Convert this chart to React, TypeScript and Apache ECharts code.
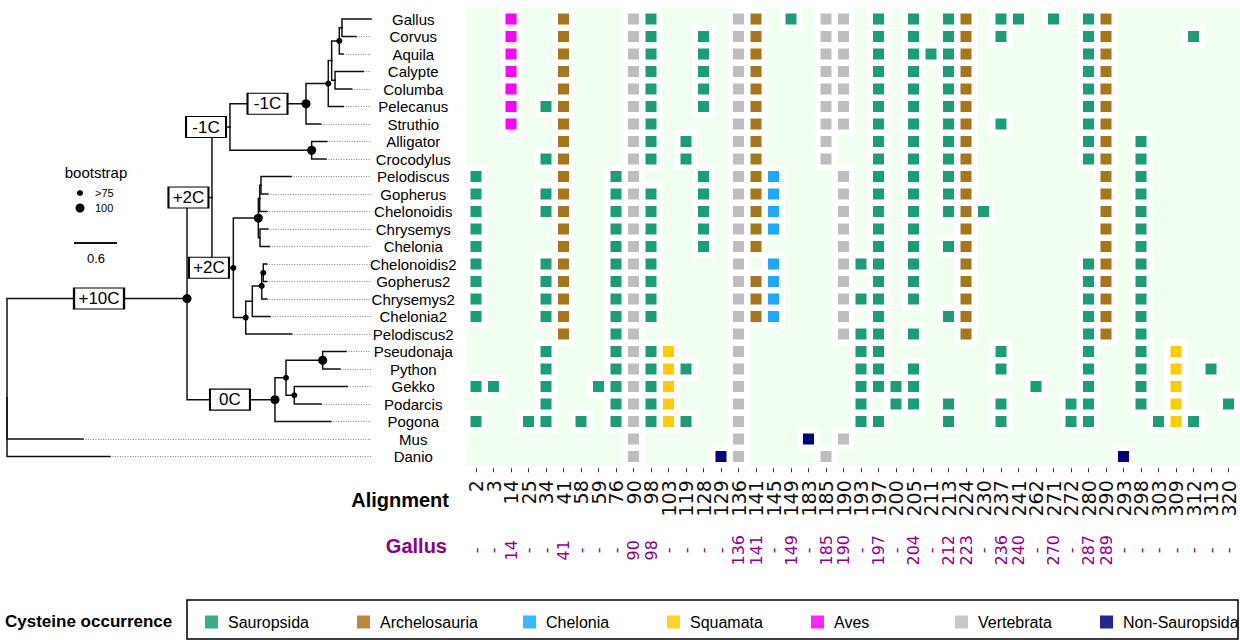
import React, { useEffect, useRef } from "react";
import * as echarts from "echarts";

// ---------- DATA ----------
const taxa = [
  "Gallus", "Corvus", "Aquila", "Calypte", "Columba", "Pelecanus", "Struthio",
  "Alligator", "Crocodylus", "Pelodiscus", "Gopherus", "Chelonoidis", "Chrysemys",
  "Chelonia", "Chelonoidis2", "Gopherus2", "Chrysemys2", "Chelonia2", "Pelodiscus2",
  "Pseudonaja", "Python", "Gekko", "Podarcis", "Pogona", "Mus", "Danio",
];

const alignmentPositions = [
  2, 3, 14, 25, 34, 41, 58, 59, 76, 90, 98, 103, 119, 128, 129, 136, 141, 145, 149, 183,
  185, 190, 193, 197, 200, 205, 211, 213, 224, 230, 237, 241, 262, 271, 272, 280, 290, 293,
  298, 303, 309, 312, 313, 320,
];

const gallusPositions = [
  "-", "-", "14", "-", "-", "41", "-", "-", "-", "90", "98", "-", "-", "-", "-", "136", "141",
  "-", "149", "-", "185", "190", "-", "197", "-", "204", "-", "212", "223", "-", "236", "240",
  "-", "270", "-", "287", "289", "-", "-", "-", "-", "-", "-", "-",
];

type Cells = [string, number[]][];

const sauropsidaCells: Cells = [
  ["Gallus", [98, 149, 197, 205, 213, 237, 241, 271, 280]],
  ["Corvus", [98, 128, 197, 205, 213, 237, 280, 312]],
  ["Aquila", [98, 128, 197, 205, 211, 213, 280]],
  ["Calypte", [98, 128, 197, 205, 213, 280]],
  ["Columba", [98, 128, 197, 205, 213, 280]],
  ["Pelecanus", [34, 98, 128, 197, 205, 213, 280]],
  ["Struthio", [98, 197, 205, 213, 237, 280]],
  ["Alligator", [98, 119, 197, 205, 213, 280, 298]],
  ["Crocodylus", [34, 98, 119, 197, 205, 213, 280, 298]],
  ["Pelodiscus", [2, 76, 128, 197, 205, 213, 298]],
  ["Gopherus", [2, 34, 76, 98, 128, 197, 205, 213, 298]],
  ["Chelonoidis", [2, 34, 76, 98, 128, 197, 205, 213, 230, 298]],
  ["Chrysemys", [2, 76, 98, 128, 197, 205, 298]],
  ["Chelonia", [2, 76, 98, 128, 197, 205, 213, 298]],
  ["Chelonoidis2", [2, 34, 76, 98, 193, 197, 205, 280, 298]],
  ["Gopherus2", [2, 34, 76, 98, 197, 205, 280, 298]],
  ["Chrysemys2", [2, 34, 76, 98, 193, 197, 205, 280, 298]],
  ["Chelonia2", [2, 34, 76, 98, 197, 213, 280, 298]],
  ["Pelodiscus2", [76, 193, 197, 205, 280, 298]],
  ["Pseudonaja", [34, 76, 98, 193, 197, 237, 280, 298]],
  ["Python", [34, 76, 98, 119, 193, 197, 205, 237, 280, 298, 313]],
  ["Gekko", [2, 3, 34, 59, 76, 98, 193, 197, 200, 205, 262, 280, 298]],
  ["Podarcis", [34, 76, 98, 193, 200, 205, 213, 237, 272, 280, 298, 320]],
  ["Pogona", [2, 25, 34, 58, 76, 98, 119, 193, 197, 213, 237, 272, 280, 303, 312]],
];

const archelosauriaCells: Cells = [
  ["Gallus", [41, 141, 224, 290]],
  ["Corvus", [41, 141, 224, 290]],
  ["Aquila", [41, 141, 224, 290]],
  ["Calypte", [41, 141, 224, 290]],
  ["Columba", [41, 141, 224, 290]],
  ["Pelecanus", [41, 141, 224, 290]],
  ["Struthio", [41, 141, 224, 290]],
  ["Alligator", [41, 141, 224, 290]],
  ["Crocodylus", [41, 141, 224, 290]],
  ["Pelodiscus", [41, 141, 224, 290]],
  ["Gopherus", [41, 141, 224, 290]],
  ["Chelonoidis", [41, 141, 224, 290]],
  ["Chrysemys", [41, 141, 224, 290]],
  ["Chelonia", [41, 141, 224, 290]],
  ["Chelonoidis2", [41, 224, 290]],
  ["Gopherus2", [41, 141, 224, 290]],
  ["Chrysemys2", [41, 141, 224, 290]],
  ["Chelonia2", [41, 141, 224, 290]],
  ["Pelodiscus2", [41, 224, 290]],
];

const cheloniaCells: Cells = [
  ["Pelodiscus", [145]], ["Gopherus", [145]], ["Chelonoidis", [145]], ["Chrysemys", [145]],
  ["Chelonoidis2", [145]], ["Gopherus2", [145]], ["Chrysemys2", [145]], ["Chelonia2", [145]],
];

const squamataCells: Cells = [
  ["Pseudonaja", [103, 309]], ["Python", [103, 309]], ["Gekko", [103, 309]],
  ["Podarcis", [103, 309]], ["Pogona", [103, 309]],
];

const avesCells: Cells = [
  ["Gallus", [14]], ["Corvus", [14]], ["Aquila", [14]], ["Calypte", [14]],
  ["Columba", [14]], ["Pelecanus", [14]], ["Struthio", [14]],
];

const vertebrataCells: Cells = [
  ["Gallus", [90, 136, 185, 190]], ["Corvus", [90, 136, 185, 190]],
  ["Aquila", [90, 136, 185, 190]], ["Calypte", [90, 136, 185, 190]],
  ["Columba", [90, 136, 185, 190]], ["Pelecanus", [90, 136, 185, 190]],
  ["Struthio", [90, 136, 185, 190]], ["Alligator", [90, 136, 185]],
  ["Crocodylus", [90, 136, 185]], ["Pelodiscus", [90, 136, 190]],
  ["Gopherus", [90, 136, 190]], ["Chelonoidis", [90, 136, 190]],
  ["Chrysemys", [90, 136, 190]], ["Chelonia", [90, 136, 190]],
  ["Chelonoidis2", [90, 136, 190]], ["Gopherus2", [90, 136, 190]],
  ["Chrysemys2", [90, 136, 190]], ["Chelonia2", [90, 136, 190]],
  ["Pelodiscus2", [90, 136, 190]], ["Pseudonaja", [90, 136]], ["Python", [90, 136]],
  ["Gekko", [90, 136]], ["Podarcis", [90, 136]], ["Pogona", [90, 136]],
  ["Mus", [90, 136, 190]], ["Danio", [90, 136, 185]],
];

const nonSauropsidaCells: Cells = [
  ["Mus", [183]], ["Danio", [129, 293]],
];

const categoryNames = ["Sauropsida", "Archelosauria", "Chelonia", "Squamata", "Aves", "Vertebrata", "Non-Sauropsida"];
const categoryColors = ["#1B9E77", "#A6761D", "#19A9FF", "#FFCC00", "#FF00FF", "#BEBEBE", "#000080"];
const categoryCells = [sauropsidaCells, archelosauriaCells, cheloniaCells, squamataCells, avesCells, vertebrataCells, nonSauropsidaCells];

// Tree: [id, parent, depth (substitutions/site), bootstrap]
const internalNodes: [string, string | null, number, number][] = [
  ["root", null, 0, 0],
  ["N1", "root", 2.512, 100],
  ["N2", "N1", 2.86, 0],
  ["N3", "N2", 3.111, 0],
  ["H", "N3", 4.172, 100],
  ["D", "H", 4.483, 80],
  ["E", "D", 4.53, 0],
  ["B", "E", 4.637, 80],
  ["A", "B", 4.674, 0],
  ["C", "E", 4.577, 0],
  ["Croc", "N3", 4.251, 100],
  ["N4", "N2", 3.158, 80],
  ["T", "N4", 3.507, 100],
  ["P2", "T", 3.526, 0],
  ["P1", "P2", 3.544, 0],
  ["P3", "T", 3.53, 0],
  ["Q4", "N4", 3.331, 80],
  ["Q3", "Q4", 3.423, 0],
  ["Q2", "Q3", 3.554, 80],
  ["Q1", "Q2", 3.576, 80],
  ["S", "N1", 3.739, 100],
  ["S1", "S", 3.893, 80],
  ["Sn", "S1", 4.405, 100],
  ["GP", "S1", 4.009, 80],
];

const tipNodes: [string, string, number][] = [
  ["Gallus", "A", 5.08], ["Corvus", "A", 4.87], ["Aquila", "B", 4.688],
  ["Calypte", "C", 4.972], ["Columba", "C", 4.81], ["Pelecanus", "D", 4.693],
  ["Struthio", "H", 4.377], ["Alligator", "Croc", 4.461], ["Crocodylus", "Croc", 4.451],
  ["Pelodiscus", "P1", 3.963], ["Gopherus", "P1", 3.638], ["Chelonoidis", "P2", 3.624],
  ["Chrysemys", "P3", 3.638], ["Chelonia", "P3", 3.66], ["Chelonoidis2", "Q1", 3.624],
  ["Gopherus2", "Q1", 3.624], ["Chrysemys2", "Q2", 3.624], ["Chelonia2", "Q3", 3.67],
  ["Pelodiscus2", "Q4", 3.972], ["Pseudonaja", "Sn", 4.73], ["Python", "Sn", 4.646],
  ["Gekko", "GP", 4.748], ["Podarcis", "GP", 4.381], ["Pogona", "S", 4.517],
  ["Mus", "root", 1.06], ["Danio", "root", 1.437],
];

// cysteine gain/loss labels on branches: [node, text, position along axis]
const branchLabels: [string, string, number][] = [
  ["N1", "+10C", 1.284], ["N2", "+2C", 2.532], ["N3", "-1C", 2.777],
  ["H", "-1C", 3.635], ["N4", "+2C", 2.818], ["S", "0C", 3.111],
];

const alignEnd = 5.08;
const scaleBar = 0.6;

// ---------- DERIVED ----------
const colIndex = (p: number) => alignmentPositions.indexOf(p);
const rowIndex = (t: string) => taxa.indexOf(t);
const toPoints = (cells: Cells) =>
  cells.flatMap(([t, ps]) => ps.map((p) => [colIndex(p), rowIndex(t)]));

const parentOf = new Map<string, string | null>();
const depthOf = new Map<string, number>();
const kids = new Map<string, string[]>();
internalNodes.forEach(([id, p, d]) => {
  parentOf.set(id, p); depthOf.set(id, d);
  if (p) kids.set(p, [...(kids.get(p) || []), id]);
});
tipNodes.forEach(([id, p, d]) => {
  parentOf.set(id, p); depthOf.set(id, d);
  kids.set(p, [...(kids.get(p) || []), id]);
});
const yMemo = new Map<string, number>();
const yOf = (id: string): number => {
  if (yMemo.has(id)) return yMemo.get(id)!;
  const r = rowIndex(id);
  let y: number;
  if (r >= 0 && !kids.has(id)) y = r;
  else {
    const ks = kids.get(id)!;
    y = ks.reduce((s, k) => s + yOf(k), 0) / ks.length;
  }
  yMemo.set(id, y);
  return y;
};

const allIds = [...internalNodes.map((n) => n[0]), ...tipNodes.map((n) => n[0])];
const branchSegments = allIds
  .filter((id) => parentOf.get(id))
  .map((id) => {
    const p = parentOf.get(id)!;
    const pd = depthOf.get(p)!;
    return { coords: [[pd, yOf(p)], [pd, yOf(id)], [depthOf.get(id)!, yOf(id)]] };
  });
const dottedSegments = tipNodes
  .filter(([, , d]) => alignEnd - d > 0.01)
  .map(([id, , d]) => ({ coords: [[d, yOf(id)], [alignEnd, yOf(id)]] }));

const FONT = "Liberation Sans";
const legendLefts = [205, 357, 523, 667, 811, 955, 1100];

const option: any = {
  animation: false,
  backgroundColor: "#ffffff",
  grid: [
    { left: 466, top: 8, width: 774, height: 458, show: true, backgroundColor: "#F0FFF0", borderWidth: 0, outerBoundsMode: "none" },
    { left: 467.25, top: 10.25, width: 770, height: 455, outerBoundsMode: "none" },
    { left: 7, top: 8, width: 372.67, height: 459, outerBoundsMode: "none" },
  ],
  xAxis: [
    { gridIndex: 0, type: "value", show: false, min: 0, max: 1 },
    {
      gridIndex: 1, type: "category", data: alignmentPositions.map(String), position: "bottom", offset: 3,
      axisLine: { show: false },
      axisTick: { show: true, alignWithLabel: true, length: 4, lineStyle: { color: "#333", width: 1 } },
      axisLabel: { interval: 0, rotate: 90, margin: 12, fontSize: 19, fontFamily: "DejaVu Sans", color: "#111" },
      splitLine: { show: false },
    },
    {
      gridIndex: 1, type: "category", data: alignmentPositions.map(String), position: "bottom", offset: 0,
      axisLine: { show: false }, axisTick: { show: false }, splitLine: { show: false },
      axisLabel: {
        interval: 0, rotate: 90, align: "center", margin: 85, fontSize: 16, fontFamily: "DejaVu Sans",
        color: "#8B008B", formatter: (_v: string, i: number) => gallusPositions[i],
      },
    },
    { gridIndex: 2, type: "value", show: false, min: 0, max: 5.2 },
  ],
  yAxis: [
    { gridIndex: 0, type: "value", show: false, min: 0, max: 1 },
    {
      gridIndex: 1, type: "category", data: taxa, inverse: true, position: "left",
      axisLine: { show: false }, axisTick: { show: false }, splitLine: { show: false },
      axisLabel: { interval: 0, align: "center", margin: 54, fontSize: 15, fontFamily: FONT, color: "#000" },
    },
    { gridIndex: 2, type: "value", show: false, min: -0.629, max: 25.6, inverse: true },
  ],
  legend: categoryNames.map((n, i) => ({
    left: legendLefts[i], top: 614, orient: "horizontal", itemWidth: 13, itemHeight: 13, itemGap: 0,
    padding: 0, selectedMode: false, icon: "rect",
    textStyle: { fontSize: 16, fontFamily: FONT, color: "#000", padding: [0, 0, 0, 5] },
    data: [{ name: n, itemStyle: { opacity: 0.85 } }],
  })),
  graphic: {
    elements: [
      { type: "rect", shape: { x: 187, y: 600, width: 1051, height: 39 }, style: { fill: "none", stroke: "#000", lineWidth: 1.5 } },
      { type: "text", x: 96, y: 172, style: { text: "bootstrap", fontSize: 15, fontFamily: FONT, fill: "#000", textAlign: "center", textVerticalAlign: "middle" } },
      { type: "circle", shape: { cx: 80, cy: 193, r: 3 }, style: { fill: "#000" } },
      { type: "circle", shape: { cx: 80, cy: 208, r: 4.5 }, style: { fill: "#000" } },
      { type: "text", x: 95, y: 193, style: { text: ">75", fontSize: 11, fontFamily: FONT, fill: "#000", textAlign: "left", textVerticalAlign: "middle" } },
      { type: "text", x: 95, y: 208, style: { text: "100", fontSize: 11, fontFamily: FONT, fill: "#000", textAlign: "left", textVerticalAlign: "middle" } },
      { type: "text", x: 96, y: 258, style: { text: String(scaleBar), fontSize: 13, fontFamily: FONT, fill: "#000", textAlign: "center", textVerticalAlign: "middle" } },
      { type: "text", x: 449, y: 500, style: { text: "Alignment", fontSize: 20, fontWeight: "bold", fontFamily: FONT, fill: "#000", textAlign: "right", textVerticalAlign: "middle" } },
      { type: "text", x: 447, y: 546, style: { text: "Gallus", fontSize: 20, fontWeight: "bold", fontFamily: FONT, fill: "#8B008B", textAlign: "right", textVerticalAlign: "middle" } },
      { type: "text", x: 5, y: 621, style: { text: "Cysteine occurrence", fontSize: 17, fontWeight: "bold", fontFamily: FONT, fill: "#000", textAlign: "left", textVerticalAlign: "middle" } },
    ],
  },
  series: [
    {
      type: "scatter", name: "halo", xAxisIndex: 1, yAxisIndex: 1, symbol: "rect", symbolSize: 23,
      itemStyle: { color: "#ffffff", opacity: 1 }, silent: true, z: 2,
      data: categoryCells.flatMap((c) => toPoints(c)),
    },
    ...categoryNames.map((n, i) => ({
      type: "scatter", name: n, xAxisIndex: 1, yAxisIndex: 1, symbol: "rect", symbolSize: 11,
      itemStyle: { color: categoryColors[i], opacity: 1 }, z: 3, silent: true,
      data: toPoints(categoryCells[i]),
    })),
    {
      type: "lines", name: "dotted", coordinateSystem: "cartesian2d", xAxisIndex: 3, yAxisIndex: 2,
      polyline: false, silent: true, z: 2,
      lineStyle: { color: "#777", width: 0.9, type: [1, 1.5], opacity: 1 },
      data: dottedSegments,
    },
    {
      type: "lines", name: "branches", coordinateSystem: "cartesian2d", xAxisIndex: 3, yAxisIndex: 2,
      polyline: true, silent: true, z: 3,
      lineStyle: { color: "#111", width: 1.5, opacity: 1, cap: "square" },
      data: branchSegments,
    },
    {
      type: "lines", name: "scale", coordinateSystem: "cartesian2d", xAxisIndex: 3, yAxisIndex: 2,
      polyline: false, silent: true, z: 3,
      lineStyle: { color: "#111", width: 2, opacity: 1 },
      data: [{ coords: [[0.935, 12.8], [0.935 + scaleBar, 12.8]] }],
    },
    {
      type: "scatter", name: "bootstrap", xAxisIndex: 3, yAxisIndex: 2, symbol: "circle", silent: true, z: 5,
      itemStyle: { color: "#000", opacity: 1 },
      data: internalNodes
        .filter(([, , , b]) => b > 0)
        .map(([id, , d, b]) => ({ value: [d, yOf(id)], symbolSize: b >= 100 ? 9 : 6 })),
    },
    {
      type: "scatter", name: "changes", xAxisIndex: 3, yAxisIndex: 2, symbol: "rect", silent: true, z: 6,
      itemStyle: { color: "#fff", borderColor: "#000", borderWidth: 1.5, opacity: 1 },
      label: { show: true, position: "inside", formatter: "{b}", fontSize: 17, fontFamily: FONT, color: "#000" },
      data: branchLabels.map(([id, txt, x]) => ({
        name: txt, value: [x, yOf(id)], symbolSize: [txt.length > 3 ? 50 : 40, 21],
      })),
    },
  ],
};

export default function App() {
  const ref = useRef<HTMLDivElement>(null);
  useEffect(() => {
    document.body.style.margin = "0";
    const chart = echarts.init(ref.current!, null, { renderer: "svg" });
    chart.setOption(option);
    return () => chart.dispose();
  }, []);
  return <div ref={ref} style={{ width: 1240, height: 640 }} />;
}
